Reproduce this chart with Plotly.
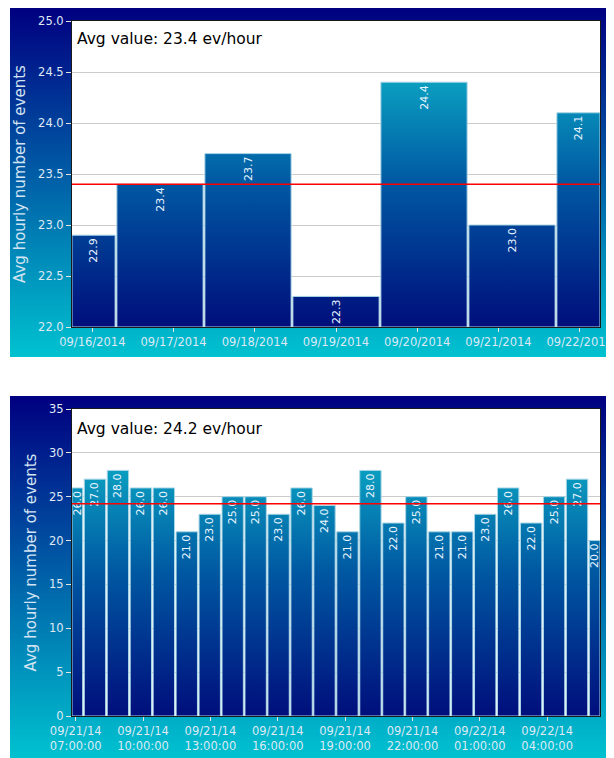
import base64
import struct
import zlib
import plotly.graph_objects as go

# ---------------- data ----------------
day_labels = ["09/16/2014", "09/17/2014", "09/18/2014", "09/19/2014",
              "09/20/2014", "09/21/2014", "09/22/2014"]
daily_values = [22.9, 23.4, 23.7, 22.3, 24.4, 23.0, 24.1]

hour_labels = ["09/21/14<br>07:00:00", "09/21/14<br>10:00:00", "09/21/14<br>13:00:00",
               "09/21/14<br>16:00:00", "09/21/14<br>19:00:00", "09/21/14<br>22:00:00",
               "09/22/14<br>01:00:00", "09/22/14<br>04:00:00"]
hourly_values = [26, 27, 28, 26, 26, 21, 23, 25, 25, 23, 26, 24,
                 21, 28, 22, 25, 21, 21, 23, 26, 22, 25, 27, 20]

# ---------------- geometry helpers ----------------
OFF = 8                      # default page margin of the html body
W, H = 614 - OFF, 758 - OFF  # figure size so that it ends at the window edge
FONT = "DejaVu Sans"


def xp(px):
    return (px - OFF) / W


def yp(py):
    return 1 - (py - OFF) / H


def gradient_png(top, bottom, n=256, w=4):
    raw = b""
    for i in range(n):
        t = i / (n - 1)
        px = bytes(round(top[c] + (bottom[c] - top[c]) * t) for c in range(3))
        raw += b"\x00" + px * w

    def chunk(tag, data):
        c = struct.pack(">I", len(data)) + tag + data
        return c + struct.pack(">I", zlib.crc32(tag + data) & 0xFFFFFFFF)

    png = (b"\x89PNG\r\n\x1a\n"
           + chunk(b"IHDR", struct.pack(">IIBBBBB", w, n, 8, 2, 0, 0, 0))
           + chunk(b"IDAT", zlib.compress(raw))
           + chunk(b"IEND", b""))
    return "data:image/png;base64," + base64.b64encode(png).decode()


panel_src = gradient_png((0, 0, 128), (0, 194, 208))

bar_scale = [[0.0, "#000e7c"], [0.47, "#0058a2"], [0.8, "#0a9ec0"], [1.0, "#14c4d4"]]
TICK_COLOR = "#dfe9f5"
TITLE_COLOR = "#d3e4f3"
EDGE = "#a9d6e6"

fig = go.Figure()


def add_panel(values, yrange, width, xa, ya, ya_over):
    n = len(values)
    lo, hi = 0, n - 1          # x range of the axis (bar index units)
    base = yrange[0]
    xs, ys, centers, widths = [], [], [], []
    for i, v in enumerate(values):
        x0, x1 = max(i - width / 2, lo), min(i + width / 2, hi)
        xs += [x0, x0, x1, x1, x0, None]
        ys += [base, v, v, base, base, None]
        centers.append((x0 + x1) / 2)
        widths.append(x1 - x0)
    fig.add_trace(go.Scatter(
        x=xs, y=ys, mode="lines", fill="toself",
        line=dict(color=EDGE, width=1),
        fillgradient=dict(type="vertical", colorscale=bar_scale,
                          start=yrange[0], stop=yrange[1]),
        xaxis=xa, yaxis=ya, hoverinfo="skip", showlegend=False))
    fig.add_trace(go.Bar(
        x=centers, y=values, width=widths,
        marker=dict(color="rgba(0,0,0,0)", line=dict(width=0)),
        text=[f"{v:.1f}" for v in values], textposition="inside",
        textangle=-90, insidetextanchor="end", constraintext="none",
        textfont=dict(family=FONT, size=11, color="#e8f4ff"),
        cliponaxis=True, xaxis=xa, yaxis=ya_over, showlegend=False))


add_panel(daily_values, [22, 25], 0.98, "x", "y", "y3")
add_panel(hourly_values, [0, 35], 0.93, "x2", "y2", "y4")

avg_daily = sum(daily_values) / len(daily_values)
avg_hourly = sum(hourly_values) / len(hourly_values)

# tick positions on the bar-index scale
top_ticks = [3 + (k - 3) * 6 / 6.5 for k in range(len(day_labels))]
bot_ticks = [0.161 + k * 2.934 for k in range(len(hour_labels))]

axis_common = dict(showline=True, linecolor="#1a1a1a", linewidth=1, mirror=True,
                   ticks="outside", tickcolor="#e4e4e4", tickwidth=1,
                   tickfont=dict(family=FONT, size=11.5, color=TICK_COLOR),
                   zeroline=False, fixedrange=True, automargin=False)

fig.update_layout(
    width=W, height=H,
    margin=dict(l=0, r=0, t=0, b=0, autoexpand=False),
    paper_bgcolor="white", plot_bgcolor="white",
    showlegend=False, barmode="overlay",
    font=dict(family=FONT),
    xaxis=dict(domain=[xp(72), xp(600)], anchor="y", range=[0, len(daily_values) - 1],
               tickmode="array", tickvals=top_ticks, ticktext=day_labels,
               ticklen=4, showgrid=False, **axis_common),
    yaxis=dict(domain=[yp(327), yp(21)], anchor="x", range=[22, 25],
               dtick=0.5, tick0=22, tickformat=".1f", ticklen=5,
               showgrid=True, gridcolor="#cccccc", gridwidth=1,
               title=dict(text="Avg hourly number of events", standoff=8,
                          font=dict(family=FONT, size=15, color=TITLE_COLOR)),
               **axis_common),
    yaxis3=dict(overlaying="y", range=[22, 25], visible=False, fixedrange=True,
                automargin=False),
    xaxis2=dict(domain=[xp(72), xp(600)], anchor="y2", range=[0, len(hourly_values) - 1],
                tickmode="array", tickvals=bot_ticks, ticktext=hour_labels,
                ticklen=4, showgrid=False, **axis_common),
    yaxis2=dict(domain=[yp(716), yp(409)], anchor="x2", range=[0, 35],
                dtick=5, tick0=0, ticklen=5,
                showgrid=True, gridcolor="#cccccc", gridwidth=1,
                title=dict(text="Avg hourly number of events", standoff=8,
                           font=dict(family=FONT, size=15, color=TITLE_COLOR)),
                **axis_common),
    yaxis4=dict(overlaying="y2", range=[0, 35], visible=False, fixedrange=True,
                automargin=False),
    images=[
        dict(source=panel_src, xref="paper", yref="paper", x=xp(10), y=yp(7),
             sizex=604 / W, sizey=350 / H, sizing="stretch",
             xanchor="left", yanchor="top", layer="below"),
        dict(source=panel_src, xref="paper", yref="paper", x=xp(10), y=yp(396),
             sizex=604 / W, sizey=362 / H, sizing="stretch",
             xanchor="left", yanchor="top", layer="below"),
    ],
    shapes=[
        dict(type="rect", xref="x", yref="y", x0=0, x1=len(daily_values) - 1,
             y0=22, y1=25, fillcolor="white", line=dict(width=0), layer="below"),
        dict(type="rect", xref="x2", yref="y2", x0=0, x1=len(hourly_values) - 1,
             y0=0, y1=35, fillcolor="white", line=dict(width=0), layer="below"),
        dict(type="line", xref="x domain", yref="y", x0=0, x1=1,
             y0=avg_daily, y1=avg_daily, line=dict(color="#ff0000", width=1.5)),
        dict(type="line", xref="x2 domain", yref="y2", x0=0, x1=1,
             y0=avg_hourly, y1=avg_hourly, line=dict(color="#ff0000", width=1.5)),
    ],
    annotations=[
        dict(text=f"Avg value: {avg_daily:.1f} ev/hour", xref="x domain", yref="y domain",
             x=0, y=1, xanchor="left", yanchor="top", xshift=3, yshift=-7,
             showarrow=False, font=dict(family=FONT, size=15.5, color="black")),
        dict(text=f"Avg value: {avg_hourly:.1f} ev/hour", xref="x2 domain", yref="y2 domain",
             x=0, y=1, xanchor="left", yanchor="top", xshift=3, yshift=-9,
             showarrow=False, font=dict(family=FONT, size=15.5, color="black")),
    ],
)

fig.write_html("out.html")
